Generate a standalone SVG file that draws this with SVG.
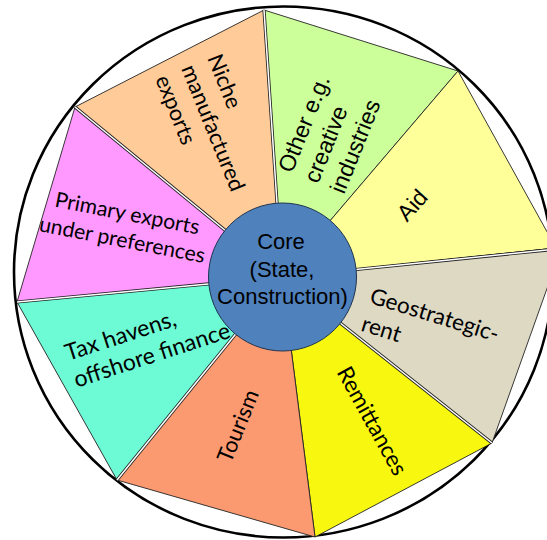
<svg xmlns="http://www.w3.org/2000/svg" width="547" height="540" viewBox="0 0 547 540">
<style>
.w{stroke:#222;stroke-width:0.9;stroke-linejoin:round}
.gapd{stroke:#222;stroke-width:3.2;fill:none}
.gapw{stroke:#fff;stroke-width:1.5;fill:none}
.c{font-family:Lato,"Liberation Sans",sans-serif;fill:#000}
.a{font-family:"Liberation Sans",Arial,sans-serif;fill:#000}
</style>
<rect width="547" height="540" fill="#fff"/>
<ellipse id="outer" cx="283.5" cy="272" rx="269.5" ry="265.5" fill="#fff" stroke="#000" stroke-width="2.6"/>
<g id="wedges">
<g id="niche"><polygon class="w" points="282,277 75,107 264,10" fill="#FFCB99"/></g>
<g id="other"><polygon class="w" points="282,277 264,10 458,71" fill="#CCFF99"/></g>
<g id="aid"><polygon class="w" points="282,277 458,71 556,248" fill="#FFFF99"/></g>
<g id="geo"><polygon class="w" points="282,277 556,248 560,252 492,443" fill="#DDD9C3"/></g>
<g id="remit"><polygon class="w" points="282,277 492,443 315,537" fill="#F7F70F"/></g>
<g id="tourism"><polygon class="w" points="282,277 315,537 117,480" fill="#FB9A70"/></g>
<g id="tax"><polygon class="w" points="282,277 117,480 17,302" fill="#6DFBD5"/></g>
<g id="primary"><polygon class="w" points="282,277 17,302 75,107" fill="#FF99FF"/></g>
</g>
<g id="connectors">
<path class="gapd" d="M264,10L282,277M75,107L282,277M17,302L282,277M557,249L282,277M492,443L282,277M117,480L282,277"/>
<path class="gapw" d="M264,10L282,277M75,107L282,277M17,302L282,277M557,249L282,277M492,443L282,277M117,480L282,277"/>
</g>
<g id="core">
<circle cx="282.5" cy="277" r="74" fill="#4F81BD" stroke="#1E3450" stroke-width="1"/>
<text class="a" font-size="22" text-anchor="middle"><tspan x="281" y="249">Core</tspan><tspan x="282" y="277">(State,</tspan><tspan x="282.5" y="304">Construction)</tspan></text>
</g>
<g id="t-niche" transform="translate(207,58) rotate(68)"><text class="c" font-size="22"><tspan x="0" y="0">Niche</tspan><tspan x="0" y="28">manufactured</tspan><tspan x="0" y="56">exports</tspan></text></g>
<g id="t-other" transform="translate(292,174) rotate(-68)"><text class="a" font-size="23"><tspan x="0" y="0">Other e.g.</tspan><tspan x="0" y="28">creative</tspan><tspan x="0" y="56">industries</tspan></text></g>
<g id="t-aid" transform="translate(418,210.5) rotate(-48)"><text class="a" font-size="23" text-anchor="middle">Aid</text></g>
<g id="t-geo" transform="translate(368.5,302.8) rotate(17)"><text class="c" font-size="22.5"><tspan x="0" y="0">Geostrategic-</tspan><tspan x="0" y="29">rent</tspan></text></g>
<g id="t-remit" transform="translate(365.4,424.6) rotate(61)"><text class="c" font-size="22.5" text-anchor="middle">Remittances</text></g>
<g id="t-tourism" transform="translate(245,428.8) rotate(-68)"><text class="c" font-size="22" text-anchor="middle">Tourism</text></g>
<g id="t-tax" transform="translate(68,361) rotate(-18)"><text class="c" font-size="23"><tspan x="0" y="0">Tax havens,</tspan><tspan x="0" y="28">offshore finance</tspan></text></g>
<g id="t-primary" transform="translate(126,220.5) rotate(11)"><text class="c" font-size="21.2" text-anchor="middle"><tspan x="0" y="0">Primary exports</tspan><tspan x="0" y="27">under preferences</tspan></text></g>
</svg>
